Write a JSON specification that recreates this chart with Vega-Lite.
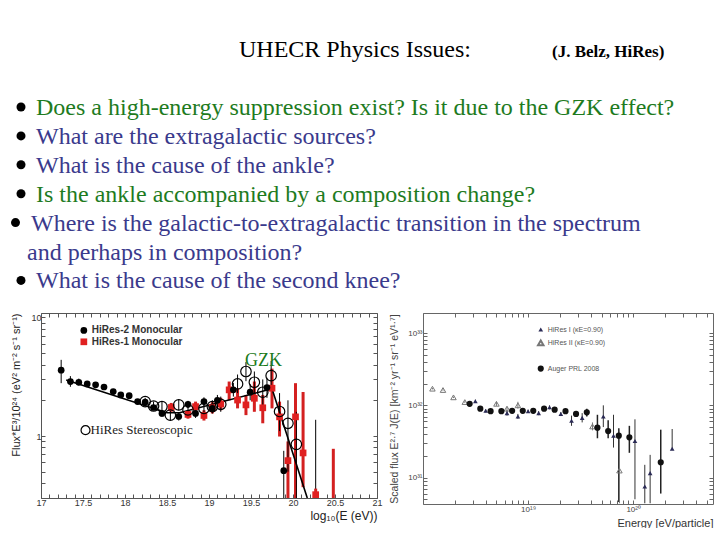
{
  "$schema": "https://vega.github.io/schema/vega-lite/v6.json",
  "padding": {"left": 10, "top": 0, "right": 0, "bottom": 0},
  "background": "white",
  "config": {"view": {"stroke": null}, "font": "Liberation Sans"},
  "datasets": {
    "lines": [
      {"line": -1, "x": 240, "text": "UHECR Physics Issues:", "kind": "title"},
      {"line": -1, "x": 553, "text": "(J. Belz, HiRes)", "kind": "credit"},
      {"line": 1, "x": 37, "text": "Does a high-energy suppression exist? Is it due to the GZK effect?", "kind": "green"},
      {"line": 2, "x": 37, "text": "What are the extragalactic sources?", "kind": "blue"},
      {"line": 3, "x": 37, "text": "What is the cause of the ankle?", "kind": "blue"},
      {"line": 4, "x": 37, "text": "Is the ankle accompanied by a composition change?", "kind": "green"},
      {"line": 5, "x": 32, "text": "Where is the galactic-to-extragalactic transition in the spectrum", "kind": "blue"},
      {"line": 6, "x": 28, "text": "and perhaps in composition?", "kind": "blue"},
      {"line": 7, "x": 37, "text": "What is the cause of the second knee?", "kind": "blue"}
    ],
    "bullets": [
      {"line": 1, "x": 22}, {"line": 2, "x": 22}, {"line": 3, "x": 22},
      {"line": 4, "x": 22}, {"line": 5, "x": 16.5}, {"line": 7, "x": 22}
    ],
    "hires2": [
      {"x": 17.24, "y": 3.59, "lo": 2.79, "hi": 4.39},
      {"x": 17.35, "y": 2.88, "lo": 2.6, "hi": 3.2},
      {"x": 17.45, "y": 2.84, "lo": 2.65, "hi": 3.05},
      {"x": 17.55, "y": 2.75, "lo": 2.6, "hi": 2.9},
      {"x": 17.65, "y": 2.7, "lo": 2.58, "hi": 2.82},
      {"x": 17.75, "y": 2.59, "lo": 2.48, "hi": 2.7},
      {"x": 17.86, "y": 2.37, "lo": 2.27, "hi": 2.47},
      {"x": 17.95, "y": 2.22, "lo": 2.13, "hi": 2.31},
      {"x": 18.05, "y": 2.19, "lo": 2.1, "hi": 2.28},
      {"x": 18.15, "y": 1.95, "lo": 1.87, "hi": 2.03},
      {"x": 18.24, "y": 1.93, "lo": 1.84, "hi": 2.02},
      {"x": 18.34, "y": 1.74, "lo": 1.65, "hi": 1.83},
      {"x": 18.44, "y": 1.55, "lo": 1.45, "hi": 1.66},
      {"x": 18.64, "y": 1.46, "lo": 1.35, "hi": 1.58},
      {"x": 18.75, "y": 1.85, "lo": 1.72, "hi": 1.98},
      {"x": 18.84, "y": 1.55, "lo": 1.42, "hi": 1.7},
      {"x": 18.94, "y": 1.95, "lo": 1.8, "hi": 2.12},
      {"x": 19.04, "y": 1.71, "lo": 1.55, "hi": 1.88},
      {"x": 19.1, "y": 2.0, "lo": 1.8, "hi": 2.22},
      {"x": 19.29, "y": 2.45, "lo": 2.15, "hi": 2.8},
      {"x": 19.49, "y": 2.34, "lo": 2.0, "hi": 2.75},
      {"x": 19.69, "y": 2.56, "lo": 2.1, "hi": 3.1},
      {"x": 19.89, "y": 0.51, "lo": 0.3, "hi": 0.75},
      {"x": 20.27, "y": null, "lo": 0.3, "hi": 1.37}
    ],
    "hires1": [
      {"x": 18.55, "y": 1.74, "lo": 1.6, "hi": 1.9},
      {"x": 18.75, "y": 1.52, "lo": 1.4, "hi": 1.65},
      {"x": 18.84, "y": 1.77, "lo": 1.6, "hi": 1.95},
      {"x": 18.94, "y": 1.49, "lo": 1.35, "hi": 1.65},
      {"x": 19.04, "y": 1.73, "lo": 1.55, "hi": 1.93},
      {"x": 19.14, "y": 1.86, "lo": 1.65, "hi": 2.1},
      {"x": 19.24, "y": 2.45, "lo": 2.0, "hi": 2.88},
      {"x": 19.34, "y": 2.01, "lo": 1.71, "hi": 2.53},
      {"x": 19.44, "y": 1.83, "lo": 1.5, "hi": 2.22},
      {"x": 19.54, "y": 2.08, "lo": 1.6, "hi": 2.88},
      {"x": 19.64, "y": 1.73, "lo": 1.28, "hi": 2.22},
      {"x": 19.75, "y": 2.53, "lo": 1.71, "hi": 3.7},
      {"x": 19.84, "y": 1.45, "lo": 0.99, "hi": 1.95},
      {"x": 19.94, "y": 0.62, "lo": 0.3, "hi": 0.9},
      {"x": 20.03, "y": 1.45, "lo": 0.3, "hi": 2.79},
      {"x": 20.12, "y": 0.72, "lo": 0.37, "hi": 2.35},
      {"x": 20.27, "y": 0.32, "lo": 0.3, "hi": 0.36},
      {"x": 20.48, "y": null, "lo": 0.3, "hi": 0.78}
    ],
    "stereo": [
      {"x": 18.24, "y": 1.95, "lo": 1.8, "hi": 2.1},
      {"x": 18.34, "y": 1.79, "lo": 1.65, "hi": 1.95},
      {"x": 18.44, "y": 1.77, "lo": 1.6, "hi": 1.95},
      {"x": 18.54, "y": 1.5, "lo": 1.35, "hi": 1.65},
      {"x": 18.64, "y": 1.83, "lo": 1.65, "hi": 2.05},
      {"x": 18.75, "y": 1.66, "lo": 1.5, "hi": 1.85},
      {"x": 18.94, "y": 1.71, "lo": 1.5, "hi": 1.95},
      {"x": 19.04, "y": 1.77, "lo": 1.55, "hi": 2.0},
      {"x": 19.14, "y": 1.85, "lo": 1.6, "hi": 2.15},
      {"x": 19.34, "y": 2.75, "lo": 2.3, "hi": 3.3},
      {"x": 19.44, "y": 3.5, "lo": 2.9, "hi": 4.2},
      {"x": 19.54, "y": 2.84, "lo": 2.3, "hi": 3.5},
      {"x": 19.64, "y": 2.34, "lo": 1.8, "hi": 3.0},
      {"x": 19.74, "y": 3.23, "lo": 2.5, "hi": 4.3},
      {"x": 19.84, "y": 1.61, "lo": 1.1, "hi": 2.3},
      {"x": 19.94, "y": 1.28, "lo": 0.5, "hi": 2.0},
      {"x": 20.04, "y": 0.85, "lo": 0.3, "hi": 1.6}
    ],
    "fit": [
      {"x": 17.3, "y": 2.97},
      {"x": 18.5, "y": 1.57},
      {"x": 18.65, "y": 1.57},
      {"x": 19.75, "y": 2.5},
      {"x": 20.17, "y": 0.3}
    ],
    "leftLegend": [
      {"x": 17.51, "y": 7.77, "label": "HiRes-2 Monocular", "sym": "dot"},
      {"x": 17.51, "y": 6.23, "label": "HiRes-1 Monocular", "sym": "square"},
      {"x": 17.53, "y": 1.12, "label": "HiRes Stereoscopic", "sym": "open"}
    ],
    "gzk": [{"x": 19.65, "y": 4.25, "label": "GZK"}],
    "rhires1": [
      {"e": 3.15e18, "f": 1.14e32, "lo": 1.08e32, "hi": 1.2e32},
      {"e": 3.95e18, "f": 0.84e32, "lo": 0.8e32, "hi": 0.88e32},
      {"e": 6.3e18, "f": 0.78e32, "lo": 0.72e32, "hi": 0.86e32},
      {"e": 8.0e18, "f": 0.7e32, "lo": 0.65e32, "hi": 0.76e32},
      {"e": 1.0e19, "f": 0.83e32, "lo": 0.79e32, "hi": 0.87e32},
      {"e": 1.26e19, "f": 0.78e32, "lo": 0.73e32, "hi": 0.83e32},
      {"e": 1.6e19, "f": 0.94e32, "lo": 0.88e32, "hi": 1.0e32},
      {"e": 2.05e19, "f": 0.76e32, "lo": 0.71e32, "hi": 0.81e32},
      {"e": 2.59e19, "f": 0.61e32, "lo": 0.52e32, "hi": 0.72e32},
      {"e": 3.27e19, "f": 0.67e32, "lo": 0.58e32, "hi": 0.78e32},
      {"e": 5.2e19, "f": 0.7e32, "lo": 0.5e32, "hi": 1.0e32},
      {"e": 6.5e19, "f": 0.38e32, "lo": 0.26e32, "hi": 0.74e32},
      {"e": 1.04e20, "f": 0.32e32, "lo": 5e30, "hi": 0.64e32},
      {"e": 1.29e20, "f": 7.5e30, "lo": 4.4e30, "hi": 1.5e31},
      {"e": 1.45e20, "f": 1.15e31, "lo": 4.4e30, "hi": 2.06e31},
      {"e": 2.35e20, "f": 2.5e31, "lo": 2.5e31, "hi": 4.7e31}
    ],
    "rhires2": [
      {"e": 1.23e18, "f": 1.7e32, "lo": 1.66e32, "hi": 1.74e32},
      {"e": 1.55e18, "f": 1.63e32, "lo": 1.59e32, "hi": 1.67e32},
      {"e": 1.95e18, "f": 1.29e32, "lo": 1.26e32, "hi": 1.32e32},
      {"e": 2.5e18, "f": 1.11e32, "lo": 1.08e32, "hi": 1.14e32},
      {"e": 5.0e18, "f": 1.05e32, "lo": 0.98e32, "hi": 1.12e32},
      {"e": 6.3e18, "f": 0.9e32, "lo": 0.84e32, "hi": 0.96e32},
      {"e": 8.0e18, "f": 1.0e32, "lo": 0.9e32, "hi": 1.12e32},
      {"e": 4.1e19, "f": 0.51e32, "lo": 0.45e32, "hi": 0.58e32},
      {"e": 7.4e19, "f": 1.25e31, "lo": 4.4e30, "hi": 4.6e31}
    ],
    "auger": [
      {"e": 2.78e18, "f": 1.05e32, "lo": 1.02e32, "hi": 1.08e32},
      {"e": 3.51e18, "f": 0.9e32, "lo": 0.88e32, "hi": 0.92e32},
      {"e": 4.4e18, "f": 0.83e32, "lo": 0.81e32, "hi": 0.85e32},
      {"e": 5.57e18, "f": 0.83e32, "lo": 0.81e32, "hi": 0.85e32},
      {"e": 7.05e18, "f": 0.84e32, "lo": 0.82e32, "hi": 0.86e32},
      {"e": 8.9e18, "f": 0.84e32, "lo": 0.82e32, "hi": 0.86e32},
      {"e": 1.12e19, "f": 0.84e32, "lo": 0.81e32, "hi": 0.87e32},
      {"e": 1.42e19, "f": 0.9e32, "lo": 0.87e32, "hi": 0.93e32},
      {"e": 1.79e19, "f": 0.87e32, "lo": 0.83e32, "hi": 0.91e32},
      {"e": 2.27e19, "f": 0.83e32, "lo": 0.79e32, "hi": 0.87e32},
      {"e": 2.86e19, "f": 0.76e32, "lo": 0.7e32, "hi": 0.83e32},
      {"e": 3.62e19, "f": 0.8e32, "lo": 0.7e32, "hi": 0.9e32},
      {"e": 4.57e19, "f": 0.49e32, "lo": 0.35e32, "hi": 0.74e32},
      {"e": 5.78e19, "f": 0.44e32, "lo": 0.35e32, "hi": 0.62e32},
      {"e": 7.3e19, "f": 0.38e32, "lo": 4.6e30, "hi": 0.48e32},
      {"e": 9.2e19, "f": 0.36e32, "lo": 0.22e32, "hi": 0.52e32},
      {"e": 1.83e20, "f": 1.63e31, "lo": 6.0e30, "hi": 4.6e31}
    ],
    "rightLegend": [
      {"e": 1.32e19, "f": 1.12e33, "label": "HiRes I (κE=0.90)", "sym": "filled"},
      {"e": 1.32e19, "f": 7.34e32, "label": "HiRes II (κE=0.90)", "sym": "open"},
      {"e": 1.32e19, "f": 3.23e32, "label": "Auger PRL 2008", "sym": "dot"}
    ]
  },
  "vconcat": [
    {
      "width": 678,
      "height": 300,
      "data": {"name": "lines"},
      "encoding": {
        "x": {"field": "x", "type": "quantitative", "scale": {"domain": [42, 720], "nice": false, "zero": false}, "axis": null},
        "y": {"field": "line", "type": "quantitative", "scale": {"domain": [-2.979, 7.401], "nice": false, "zero": false, "reverse": true}, "axis": null}
      },
      "layer": [
        {
          "transform": [{"filter": "datum.kind == 'title'"}],
          "mark": {"type": "text", "align": "left", "baseline": "alphabetic", "font": "Liberation Serif, Times New Roman, serif", "fontSize": 24, "color": "black"},
          "encoding": {"text": {"field": "text"}}
        },
        {
          "transform": [{"filter": "datum.kind == 'credit'"}],
          "mark": {"type": "text", "align": "left", "baseline": "alphabetic", "font": "Liberation Serif, Times New Roman, serif", "fontSize": 17, "fontWeight": "bold", "color": "black"},
          "encoding": {"text": {"field": "text"}}
        },
        {
          "transform": [{"filter": "datum.kind == 'green' || datum.kind == 'blue'"}],
          "mark": {"type": "text", "align": "left", "baseline": "alphabetic", "font": "Liberation Serif, Times New Roman, serif", "fontSize": 24},
          "encoding": {
            "text": {"field": "text"},
            "color": {"field": "kind", "type": "nominal", "scale": {"domain": ["green", "blue"], "range": ["#1e7b1e", "#3a3a8c"]}, "legend": null}
          }
        },
        {
          "data": {"name": "bullets"},
          "mark": {"type": "point", "shape": "circle", "filled": true, "color": "black", "opacity": 1, "size": 81, "yOffset": -8}
        }
      ]
    },
    {
      "spacing": 6,
      "hconcat": [
        {
          "width": 336,
          "height": 185,
          "resolve": {"axis": {"x": "independent", "y": "independent"}},
          "encoding": {
            "x": {"field": "x", "type": "quantitative", "scale": {"domain": [17, 21], "nice": false, "zero": false}, "axis": null},
            "y": {"field": "y", "type": "quantitative", "scale": {"type": "log", "domain": [0.3, 10.9], "nice": false}, "axis": null}
          },
          "layer": [
            {
              "data": {"name": "hires2"},
              "mark": {"type": "rule", "color": "black", "strokeWidth": 1, "clip": true},
              "encoding": {
                "x": {"field": "x", "type": "quantitative", "scale": {"domain": [17, 21], "nice": false, "zero": false},
                  "axis": {"orient": "bottom", "values": [17,17.1,17.2,17.3,17.4,17.5,17.6,17.7,17.8,17.9,18,18.1,18.2,18.3,18.4,18.5,18.6,18.7,18.8,18.9,19,19.1,19.2,19.3,19.4,19.5,19.6,19.7,19.8,19.9,20,20.1,20.2,20.3,20.4,20.5,20.6,20.7,20.8,20.9,21],
                    "labelExpr": "abs(datum.value*2 - round(datum.value*2)) < 0.01 ? format(datum.value, '~g') : ''",
                    "labelOverlap": false, "labelFlush": false, "labelBound": false, "grid": false,
                    "tickSize": -4, "labelPadding": 4, "labelFontSize": 9, "labelColor": "#333",
                    "domainColor": "#555", "tickColor": "#555",
                    "title": "log₁₀(E (eV))", "titleAnchor": "end", "titleFontSize": 12, "titleFontWeight": "normal", "titleColor": "#222", "titlePadding": 3}},
                "y": {"field": "lo", "type": "quantitative", "scale": {"type": "log", "domain": [0.3, 10.9], "nice": false},
                  "axis": {"orient": "left", "values": [0.3,0.4,0.5,0.6,0.7,0.8,0.9,1,2,3,4,5,6,7,8,9,10],
                    "labelExpr": "datum.value == 1 ? '1' : datum.value == 10 ? '10' : ''",
                    "labelOverlap": false, "labelFlush": false, "grid": false,
                    "tickSize": -4, "labelPadding": 4, "labelFontSize": 9, "labelColor": "#333",
                    "domainColor": "#555", "tickColor": "#555",
                    "title": "Flux*E³/10²⁴ (eV² m⁻² s⁻¹ sr⁻¹)", "titleAnchor": "end", "titleFontSize": 11, "titleFontWeight": "normal", "titleColor": "#222", "titlePadding": 9}},
                "y2": {"field": "hi"}
              }
            },
            {
              "data": {"name": "hires1"},
              "mark": {"type": "rule", "color": "#d42020", "strokeWidth": 3, "clip": true},
              "encoding": {
                "x": {"field": "x", "type": "quantitative", "scale": {"domain": [17, 21], "nice": false, "zero": false},
                  "axis": {"orient": "top", "values": [17,17.1,17.2,17.3,17.4,17.5,17.6,17.7,17.8,17.9,18,18.1,18.2,18.3,18.4,18.5,18.6,18.7,18.8,18.9,19,19.1,19.2,19.3,19.4,19.5,19.6,19.7,19.8,19.9,20,20.1,20.2,20.3,20.4,20.5,20.6,20.7,20.8,20.9,21],
                    "labels": false, "grid": false, "tickSize": -4, "domainColor": "#555", "tickColor": "#555", "title": null}},
                "y": {"field": "lo", "type": "quantitative", "scale": {"type": "log", "domain": [0.3, 10.9], "nice": false},
                  "axis": {"orient": "right", "values": [0.3,0.4,0.5,0.6,0.7,0.8,0.9,1,2,3,4,5,6,7,8,9,10],
                    "labels": false, "grid": false, "tickSize": -4, "domainColor": "#555", "tickColor": "#555", "title": null}},
                "y2": {"field": "hi"}
              }
            },
            {
              "data": {"name": "stereo"},
              "mark": {"type": "rule", "color": "black", "strokeWidth": 1, "clip": true},
              "encoding": {"y": {"field": "lo", "type": "quantitative", "scale": {"type": "log", "domain": [0.3, 10.9], "nice": false}, "axis": null}, "y2": {"field": "hi"}}
            },
            {
              "data": {"name": "fit"},
              "mark": {"type": "line", "color": "black", "strokeWidth": 1.6, "clip": true}
            },
            {
              "data": {"name": "hires1"},
              "mark": {"type": "point", "shape": "square", "filled": true, "color": "#e02020", "opacity": 1, "size": 45, "clip": true}
            },
            {
              "data": {"name": "hires2"},
              "mark": {"type": "point", "shape": "circle", "filled": true, "color": "black", "opacity": 1, "size": 45, "clip": true}
            },
            {
              "data": {"name": "stereo"},
              "mark": {"type": "point", "shape": "circle", "filled": false, "color": "black", "opacity": 1, "size": 110, "strokeWidth": 1.2, "clip": true}
            },
            {
              "data": {"name": "leftLegend"},
              "transform": [{"filter": "datum.sym == 'dot'"}],
              "mark": {"type": "point", "shape": "circle", "filled": true, "color": "black", "opacity": 1, "size": 45}
            },
            {
              "data": {"name": "leftLegend"},
              "transform": [{"filter": "datum.sym == 'square'"}],
              "mark": {"type": "point", "shape": "square", "filled": true, "color": "#e02020", "opacity": 1, "size": 45}
            },
            {
              "data": {"name": "leftLegend"},
              "transform": [{"filter": "datum.sym == 'open'"}],
              "mark": {"type": "point", "shape": "circle", "filled": false, "color": "black", "opacity": 1, "size": 80, "strokeWidth": 1.2}
            },
            {
              "data": {"name": "leftLegend"},
              "transform": [{"filter": "datum.sym != 'open'"}],
              "mark": {"type": "text", "align": "left", "baseline": "middle", "dx": 8, "font": "Liberation Sans", "fontSize": 10, "fontWeight": "bold", "color": "#333"},
              "encoding": {"text": {"field": "label"}}
            },
            {
              "data": {"name": "leftLegend"},
              "transform": [{"filter": "datum.sym == 'open'"}],
              "mark": {"type": "text", "align": "left", "baseline": "middle", "dx": 5, "font": "Liberation Serif, Times New Roman, serif", "fontSize": 13, "color": "#222"},
              "encoding": {"text": {"field": "label"}}
            },
            {
              "data": {"name": "gzk"},
              "mark": {"type": "text", "align": "center", "baseline": "middle", "font": "Liberation Serif, Times New Roman, serif", "fontSize": 18, "color": "#1a7a1a"},
              "encoding": {"text": {"field": "label"}}
            }
          ]
        },
        {
          "width": 290,
          "height": 191,
          "resolve": {"axis": {"x": "independent", "y": "independent"}},
          "encoding": {
            "x": {"field": "e", "type": "quantitative", "scale": {"type": "log", "domain": [1e18, 5.75e20], "nice": false}, "axis": null},
            "y": {"field": "f", "type": "quantitative", "scale": {"type": "log", "domain": [4.3e30, 1.9e33], "nice": false}, "axis": null}
          },
          "layer": [
            {
              "data": {"name": "auger"},
              "mark": {"type": "rule", "color": "#222", "strokeWidth": 1.5, "clip": true},
              "encoding": {
                "x": {"field": "e", "type": "quantitative", "scale": {"type": "log", "domain": [1e18, 5.75e20], "nice": false},
                  "axis": {"orient": "bottom", "values": [1e18,2e18,3e18,4e18,5e18,6e18,7e18,8e18,9e18,1e19,2e19,3e19,4e19,5e19,6e19,7e19,8e19,9e19,1e20,2e20,3e20,4e20,5e20],
                    "labelExpr": "datum.value == 1e19 ? '10¹⁹' : datum.value == 1e20 ? '10²⁰' : ''",
                    "labelOverlap": false, "labelFlush": false, "grid": false,
                    "tickSize": -4, "labelPadding": 5, "labelFontSize": 8, "labelColor": "#444",
                    "domainColor": "#666", "tickColor": "#666",
                    "title": "Energy [eV/particle]", "titleAnchor": "end", "titleFontSize": 11, "titleFontWeight": "normal", "titleColor": "#333", "titlePadding": 4}},
                "y": {"field": "lo", "type": "quantitative", "scale": {"type": "log", "domain": [4.3e30, 1.9e33], "nice": false},
                  "axis": {"orient": "left", "values": [5e30,6e30,7e30,8e30,9e30,1e31,2e31,3e31,4e31,5e31,6e31,7e31,8e31,9e31,1e32,2e32,3e32,4e32,5e32,6e32,7e32,8e32,9e32,1e33],
                    "labelExpr": "datum.value == 1e31 ? '10³¹' : datum.value == 1e32 ? '10³²' : datum.value == 1e33 ? '10³³' : ''",
                    "labelOverlap": false, "labelFlush": false, "grid": false,
                    "tickSize": -4, "labelPadding": 5, "labelFontSize": 8, "labelColor": "#444",
                    "domainColor": "#666", "tickColor": "#666",
                    "title": "Scaled flux  E²·⁷ J(E) [km⁻² yr⁻¹ sr⁻¹ eV¹·⁷]", "titleFontSize": 10.5, "titleFontWeight": "normal", "titleColor": "#444", "titlePadding": 8}},
                "y2": {"field": "hi"}
              }
            },
            {
              "data": {"name": "rhires1"},
              "mark": {"type": "rule", "color": "#333", "strokeWidth": 1, "clip": true},
              "encoding": {
                "x": {"field": "e", "type": "quantitative", "scale": {"type": "log", "domain": [1e18, 5.75e20], "nice": false},
                  "axis": {"orient": "top", "values": [1e18,2e18,3e18,4e18,5e18,6e18,7e18,8e18,9e18,1e19,2e19,3e19,4e19,5e19,6e19,7e19,8e19,9e19,1e20,2e20,3e20,4e20,5e20],
                    "labels": false, "grid": false, "tickSize": -4, "domainColor": "#666", "tickColor": "#666", "title": null}},
                "y": {"field": "lo", "type": "quantitative", "scale": {"type": "log", "domain": [4.3e30, 1.9e33], "nice": false},
                  "axis": {"orient": "right", "values": [5e30,6e30,7e30,8e30,9e30,1e31,2e31,3e31,4e31,5e31,6e31,7e31,8e31,9e31,1e32,2e32,3e32,4e32,5e32,6e32,7e32,8e32,9e32,1e33],
                    "labels": false, "grid": false, "tickSize": -4, "domainColor": "#666", "tickColor": "#666", "title": null}},
                "y2": {"field": "hi"}
              }
            },
            {
              "data": {"name": "rhires2"},
              "mark": {"type": "rule", "color": "#777", "strokeWidth": 1, "clip": true},
              "encoding": {"y": {"field": "lo", "type": "quantitative", "scale": {"type": "log", "domain": [4.3e30, 1.9e33], "nice": false}, "axis": null}, "y2": {"field": "hi"}}
            },
            {
              "data": {"name": "rhires2"},
              "mark": {"type": "point", "shape": "triangle-up", "filled": false, "color": "#777", "opacity": 1, "size": 30, "strokeWidth": 1, "clip": true}
            },
            {
              "data": {"name": "rhires1"},
              "mark": {"type": "point", "shape": "triangle-up", "filled": true, "color": "#2a2a55", "opacity": 1, "size": 22, "clip": true}
            },
            {
              "data": {"name": "auger"},
              "mark": {"type": "point", "shape": "circle", "filled": true, "color": "#111", "opacity": 1, "size": 38, "clip": true}
            },
            {
              "data": {"name": "rightLegend"},
              "transform": [{"filter": "datum.sym == 'filled'"}],
              "mark": {"type": "point", "shape": "triangle-up", "filled": true, "color": "#2a2a55", "opacity": 1, "size": 22}
            },
            {
              "data": {"name": "rightLegend"},
              "transform": [{"filter": "datum.sym == 'open'"}],
              "mark": {"type": "point", "shape": "triangle-up", "filled": false, "color": "#777", "opacity": 1, "size": 30}
            },
            {
              "data": {"name": "rightLegend"},
              "transform": [{"filter": "datum.sym == 'dot'"}],
              "mark": {"type": "point", "shape": "circle", "filled": true, "color": "#111", "opacity": 1, "size": 38}
            },
            {
              "data": {"name": "rightLegend"},
              "mark": {"type": "text", "align": "left", "baseline": "middle", "dx": 7, "font": "Liberation Sans", "fontSize": 7, "color": "#555"},
              "encoding": {"text": {"field": "label"}}
            }
          ]
        }
      ]
    }
  ],
  "spacing": 12
}
